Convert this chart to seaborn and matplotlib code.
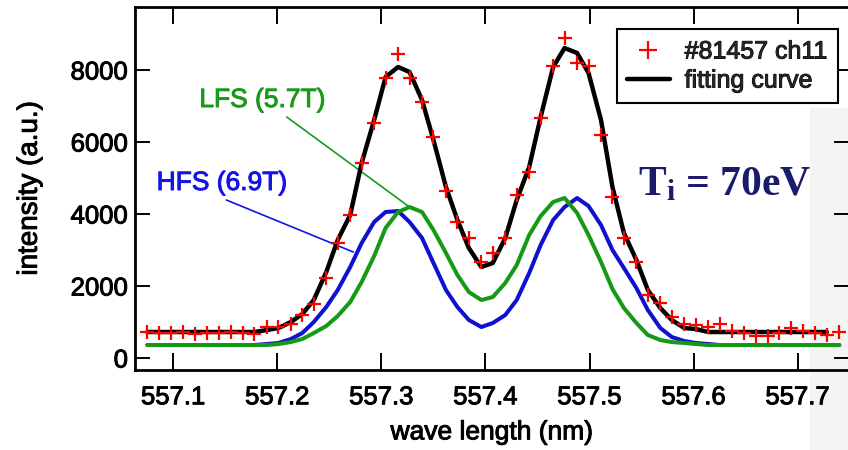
import matplotlib
matplotlib.use("Agg")
import matplotlib.pyplot as plt
import matplotlib.patheffects as pe
import seaborn as sns
import pandas as pd
from matplotlib.lines import Line2D
from matplotlib.patches import Rectangle

# ---- data ----
wavelength = [557.075, 557.086, 557.098, 557.109, 557.121, 557.132, 557.144, 557.155,
              557.167, 557.178, 557.190, 557.201, 557.213, 557.224, 557.235, 557.247,
              557.258, 557.270, 557.281, 557.293, 557.304, 557.316, 557.327, 557.339,
              557.350, 557.362, 557.373, 557.384, 557.396, 557.407, 557.419, 557.430,
              557.442, 557.453, 557.465, 557.476, 557.488, 557.499, 557.511, 557.522,
              557.533, 557.545, 557.556, 557.568, 557.579, 557.591, 557.602, 557.614,
              557.625, 557.637, 557.648, 557.660, 557.671, 557.682, 557.694, 557.705,
              557.717, 557.728, 557.740]

measured = [722, 694, 694, 722, 667, 694, 694, 722, 694, 667,
            861, 861, 944, 1194, 1500, 2222, 3194, 3972, 5417, 6528,
            7778, 8444, 7778, 7111, 6139, 4639, 3778, 3333, 2667, 2917,
            3333, 4528, 5167, 6667, 8111, 8889, 8194, 8111, 6194, 4472,
            3333, 2667, 1750, 1528, 1139, 944, 917, 861, 944, 750,
            694, 611, 611, 694, 833, 750, 694, 639, 722]

fitting = [722, 722, 722, 722, 722, 722, 722, 722, 722, 722,
           778, 833, 1000, 1222, 1611, 2389, 3278, 3972, 5417, 6611,
           7806, 8083, 7944, 7167, 6056, 4750, 3833, 3056, 2528, 2639,
           3333, 4389, 5306, 6694, 8083, 8611, 8472, 7917, 6611, 4750,
           3472, 2722, 1889, 1389, 1056, 833, 806, 722, 722, 722,
           722, 722, 722, 722, 722, 722, 722, 722]

hfs = [361, 361, 361, 361, 361, 361, 361, 361, 361, 361,
       389, 417, 528, 694, 1000, 1417, 1889, 2528, 3194, 3778,
       4056, 4083, 3778, 3333, 2639, 1889, 1417, 1056, 861, 972,
       1194, 1611, 2361, 3139, 3833, 4194, 4444, 4222, 3694, 3000,
       2500, 1944, 1333, 833, 583, 472, 417, 389, 361, 361,
       361, 361, 361, 361, 361, 361, 361, 361, 361]

lfs = [361, 361, 361, 361, 361, 361, 361, 361, 361, 361,
       361, 389, 444, 528, 694, 889, 1167, 1556, 2111, 2833,
       3611, 4056, 4194, 4056, 3556, 2917, 2306, 1833, 1611, 1694,
       2083, 2583, 3417, 3944, 4333, 4444, 4028, 3417, 2667, 1917,
       1389, 972, 639, 500, 444, 417, 389, 361, 361, 361,
       361, 361, 361, 361, 361, 361, 361, 361, 361]

x_ticks = [557.1, 557.2, 557.3, 557.4, 557.5, 557.6, 557.7]
y_ticks = [0, 2000, 4000, 6000, 8000]

# annotation geometry (text anchors and leader lines)
lfs_label = (557.125, 6972)
lfs_leader = [(557.209, 6694), (557.327, 4194)]
hfs_label = (557.084, 4667)
hfs_leader = [(557.151, 4389), (557.273, 2944)]

# ---- frames ----
df_meas = pd.DataFrame({"wl": wavelength, "val": measured})
df_fit = pd.DataFrame({"wl": wavelength[:len(fitting)], "val": fitting})
df_hfs = pd.DataFrame({"wl": wavelength, "val": hfs})
df_lfs = pd.DataFrame({"wl": wavelength, "val": lfs})

sns.set_theme(style="white")
plt.rcParams["font.family"] = ["Liberation Sans", "DejaVu Sans"]
plt.rcParams["mathtext.fontset"] = "custom"
plt.rcParams["mathtext.rm"] = "Liberation Serif:bold"
plt.rcParams["mathtext.bf"] = "Liberation Serif:bold"
plt.rcParams["mathtext.it"] = "Liberation Serif:bold"

fig = plt.figure(figsize=(8.48, 4.5), dpi=100)
ax = fig.add_axes([135 / 848, 80 / 450, 714 / 848, 363 / 450])
ax.set_facecolor("white")

# light grey band at the right edge of the reference
ax.add_patch(Rectangle((810 / 848, 0), 38 / 848, 342 / 450, transform=fig.transFigure,
                       clip_on=False, facecolor="#f4f4f4", edgecolor="none", zorder=0))

BLUE = "#1010d0"
GREEN = "#169a16"

sns.lineplot(data=df_hfs, x="wl", y="val", ax=ax, color=BLUE, lw=2.9, sort=False,
             legend=False, zorder=2)
sns.lineplot(data=df_lfs, x="wl", y="val", ax=ax, color=GREEN, lw=2.9, sort=False,
             legend=False, zorder=3)
sns.lineplot(data=df_fit, x="wl", y="val", ax=ax, color="black", lw=3.2, sort=False,
             legend=False, zorder=4)
sns.scatterplot(data=df_meas, x="wl", y="val", ax=ax, marker="+", s=110, color="#ff0000",
                linewidth=1.6, legend=False, zorder=5)


def heavy(color):
    return [pe.withStroke(linewidth=0.7, foreground=color)]


# annotations
ax.text(lfs_label[0], lfs_label[1], "LFS (5.7T)", color="#1a9a1a", fontsize=19,
        ha="left", va="baseline", path_effects=heavy("#1a9a1a"))
ax.annotate("", xy=lfs_leader[1], xytext=lfs_leader[0],
            arrowprops=dict(arrowstyle="-", color="#1a9a1a", lw=1.2, shrinkA=0, shrinkB=0))
ax.text(hfs_label[0], hfs_label[1], "HFS (6.9T)", color="#1414e6", fontsize=19,
        ha="left", va="baseline", path_effects=heavy("#1414e6"))
ax.annotate("", xy=hfs_leader[1], xytext=hfs_leader[0],
            arrowprops=dict(arrowstyle="-", color="#1414e6", lw=1.2, shrinkA=0, shrinkB=0))

fig.text(638 / 848, 1 - 195 / 450, r"$\mathbf{T_i}$ = 70eV", color="#1b1b6b",
         fontsize=30, family="Liberation Serif", fontweight="bold",
         ha="left", va="baseline")

# axes styling
ax.set_xlim(557.0632, 557.7493)
ax.set_ylim(-333, 9750)
ax.set_xticks(x_ticks)
ax.set_xticklabels([f"{t:.1f}" for t in x_ticks])
ax.set_yticks(y_ticks)
ax.set_yticklabels([str(t) for t in y_ticks])
ax.tick_params(axis="x", which="both", direction="in", length=12, width=1.4,
               top=True, bottom=True, labelsize=18.5, pad=11, colors="black")
ax.tick_params(axis="y", which="both", direction="in", length=11, width=1.4,
               left=True, right=True, labelsize=18.5, pad=5, colors="black")
for sp in ax.spines.values():
    sp.set_color("black")
    sp.set_linewidth(2.0)
    sp.set_visible(True)

ax.set_xlabel("wave length (nm)", fontsize=19, color="black", labelpad=8)
ax.set_ylabel("intensity (a.u.)", fontsize=20, color="black", labelpad=20)

handles = [Line2D([], [], marker="+", linestyle="none", color="#ff0000", markersize=13,
                  markeredgewidth=1.6),
           Line2D([], [], color="black", lw=3.2)]
leg = ax.legend(handles, ["#81457 ch11", "fitting curve"], loc="upper right",
                bbox_to_anchor=(838 / 848, 1 - 29 / 450), bbox_transform=fig.transFigure,
                fontsize=18, frameon=True, fancybox=False, borderaxespad=0,
                borderpad=0.42, labelspacing=0.2, handlelength=1.7, handletextpad=0.6)
leg.get_frame().set_edgecolor("black")
leg.get_frame().set_linewidth(1.5)
leg.get_frame().set_alpha(1)
leg.set_zorder(10)

for t in ax.get_xticklabels() + ax.get_yticklabels() + leg.get_texts():
    t.set_path_effects(heavy("black"))
ax.xaxis.label.set_path_effects(heavy("black"))
ax.yaxis.label.set_path_effects(heavy("black"))

fig.savefig("out.png", dpi=100)
